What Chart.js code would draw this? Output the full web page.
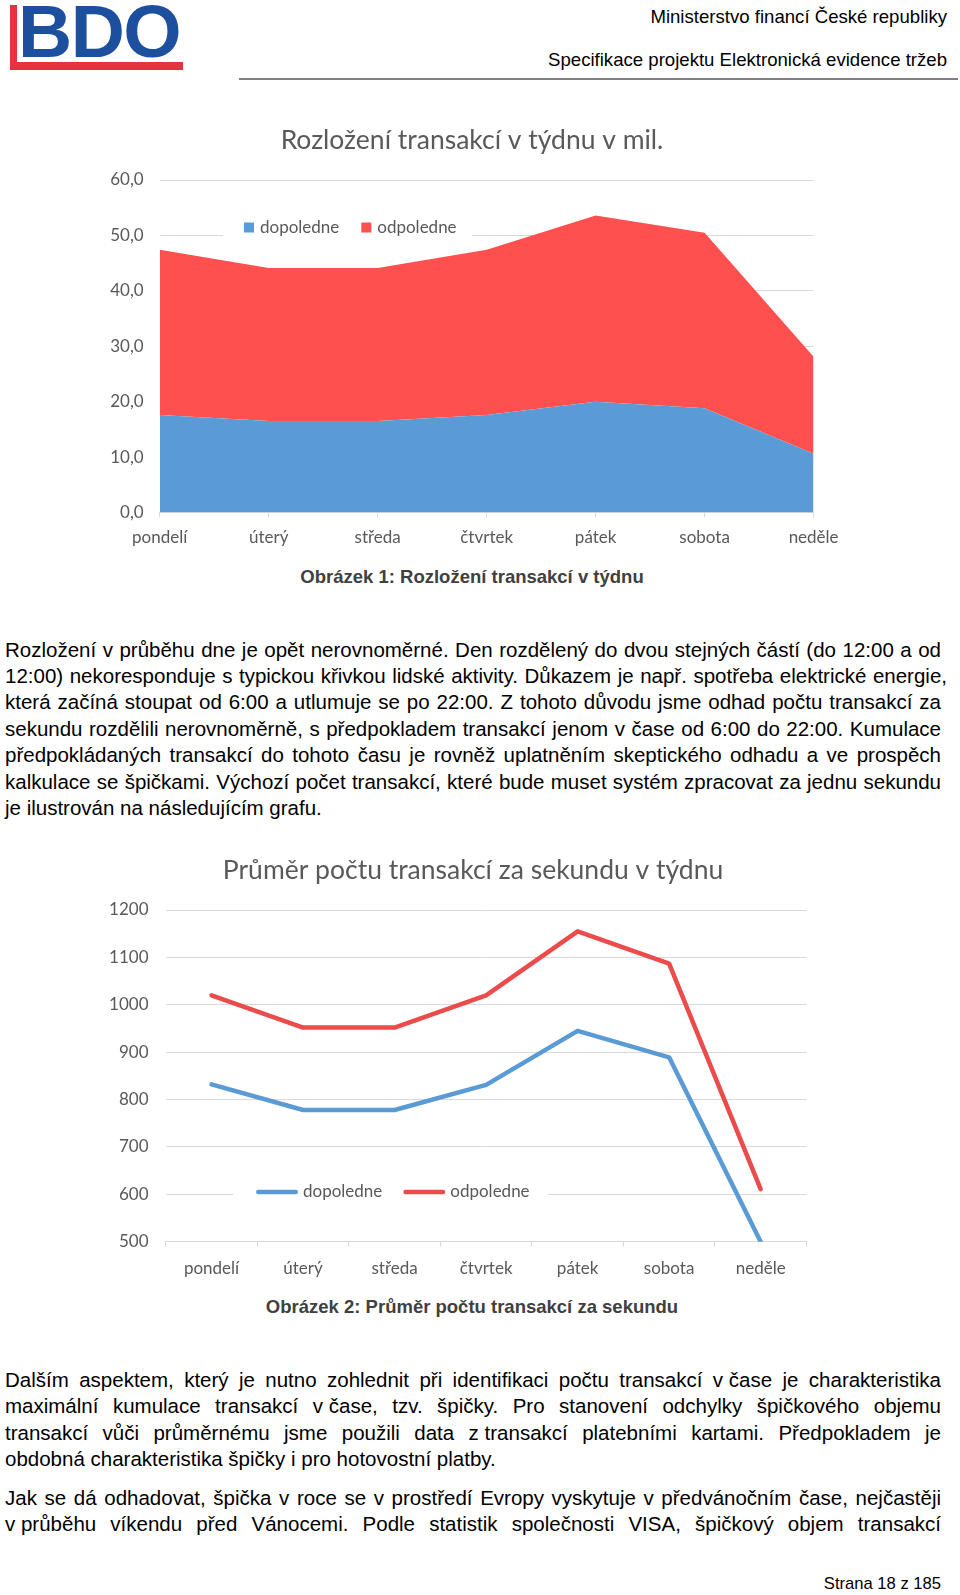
<!DOCTYPE html>
<html lang="cs">
<head>
<meta charset="utf-8">
<title>Rozložení transakcí</title>
<script src="https://cdn.jsdelivr.net/npm/chart.js@4.4.1/dist/chart.umd.min.js"></script>
<style>
  html, body { margin: 0; padding: 0; background: #fff; }
  #page { position: relative; width: 960px; height: 1595px; overflow: hidden; background: #fff; font-family: "Liberation Sans", Arial, sans-serif; color: #000; }
  .abs { position: absolute; }
  .logo-v { left: 10px; top: 5px; width: 7px; height: 65px; background: #e8313f; }
  .logo-h { left: 10px; top: 62px; width: 173px; height: 8px; background: #e8313f; }
  .logo-t { left: 18px; top: -5.8px; font: bold 75px/75px "Liberation Sans", Arial, sans-serif; color: #1d4f9f; letter-spacing: -1.5px; }
  .hdr { right: 13px; font-size: 18.6px; line-height: 22px; white-space: nowrap; }
  .rule { left: 239px; top: 78px; width: 719px; height: 2px; background: #808080; }
  .caption { left: 0; width: 944px; text-align: center; font-weight: bold; font-size: 18.5px; line-height: 22px; color: #404040; }
  .para { left: 5px; width: 936px; font-size: 20.5px; }
  .para div { height: 26.4px; line-height: 26.4px; text-align: justify; text-align-last: justify; }
  .para div.last { text-align: left; text-align-last: left; }
  .nb { display: inline-block; white-space: nowrap; }
  .footer { right: 19px; top: 1574px; font-size: 16.6px; line-height: 20px; }
  canvas { position: absolute; }
</style>
</head>
<body>
<div id="page">
  <div class="abs logo-v"></div>
  <div class="abs logo-h"></div>
  <div class="abs logo-t">BDO</div>
  <div class="abs hdr" style="top:6.3px">Ministerstvo financí České republiky</div>
  <div class="abs hdr" style="top:49px">Specifikace projektu Elektronická evidence tržeb</div>
  <div class="abs rule"></div>

  <canvas id="chart1" width="760" height="460" style="left:90px;top:100px;width:760px;height:460px"></canvas>
  <div class="abs caption" style="top:566.2px">Obrázek 1: Rozložení transakcí v týdnu</div>

  <div class="abs para" style="top:636.6px">
    <div>Rozložení v průběhu dne je opět nerovnoměrné. Den rozdělený do dvou stejných částí (do 12:00 a od</div>
    <div style="width:942px">12:00) nekoresponduje s typickou křivkou lidské aktivity. Důkazem je např. spotřeba elektrické energie,</div>
    <div>která začíná stoupat od 6:00 a utlumuje se po 22:00. Z tohoto důvodu jsme odhad počtu transakcí za</div>
    <div>sekundu rozdělili nerovnoměrně, s předpokladem transakcí jenom v čase od 6:00 do 22:00. Kumulace</div>
    <div>předpokládaných transakcí do tohoto času je rovněž uplatněním skeptického odhadu a ve prospěch</div>
    <div>kalkulace se špičkami. Výchozí počet transakcí, které bude muset systém zpracovat za jednu sekundu</div>
    <div class="last">je ilustrován na následujícím grafu.</div>
  </div>

  <canvas id="chart2" width="760" height="470" style="left:90px;top:820px;width:760px;height:470px"></canvas>
  <div class="abs caption" style="top:1295.6px">Obrázek 2: Průměr počtu transakcí za sekundu</div>

  <div class="abs para" style="top:1366.8px">
    <div>Dalším aspektem, který je nutno zohlednit při identifikaci počtu transakcí <span class="nb">v&nbsp;čase</span> je charakteristika</div>
    <div>maximální kumulace transakcí <span class="nb">v&nbsp;čase,</span> tzv. špičky. Pro stanovení odchylky špičkového objemu</div>
    <div>transakcí vůči průměrnému jsme použili data <span class="nb">z&nbsp;transakcí</span> platebními kartami. Předpokladem je</div>
    <div class="last">obdobná charakteristika špičky i pro hotovostní platby.</div>
  </div>

  <div class="abs para" style="top:1484.7px">
    <div>Jak se dá odhadovat, špička v roce se v prostředí Evropy vyskytuje v předvánočním čase, nejčastěji</div>
    <div><span class="nb">v&nbsp;průběhu</span> víkendu před Vánocemi. Podle statistik společnosti VISA, špičkový objem transakcí</div>
  </div>

  <div class="abs footer">Strana 18 z 185</div>
</div>

<script>
// ---- data ----
const days = ['pondelí', 'úterý', 'středa', 'čtvrtek', 'pátek', 'sobota', 'neděle'];
const seriesNames = ['dopoledne', 'odpoledne'];
// Chart 1: transactions per weekday in millions (stacked)
const volumeMorning   = [17.6, 16.5, 16.5, 17.6, 20.0, 18.8, 10.6];
const volumeAfternoon = [29.8, 27.6, 27.6, 29.8, 33.6, 31.7, 17.5];
// Chart 2: average transactions per second
const tpsMorning   = [832, 778, 778, 831, 945, 889, 500];
const tpsAfternoon = [1020, 952, 952, 1020, 1155, 1087, 611];
const title1 = 'Rozložení transakcí v týdnu v mil.';
const title2 = 'Průměr počtu transakcí za sekundu v týdnu';

const BLUE = '#5B9BD5';
const RED_AREA = '#FF5050';
const RED_LINE = '#EC4B4B';
const GRID = '#D9D9D9';
const TEXT = '#595959';

Chart.defaults.font.family = 'Lato, "Open Sans", sans-serif';
Chart.defaults.font.size = 17;
Chart.defaults.color = TEXT;

// re-centres the title block horizontally on a given canvas x
const titleCenter = {
  id: 'titleCenter',
  afterLayout(chart, args, o) {
    const t = chart.titleBlock;
    if (!t) return;
    const half = (t.right - t.left) / 2;
    t.left = o.center - half;
    t.right = o.center + half;
  }
};

const insideLegend = {
  id: 'insideLegend',
  beforeDatasetsDraw(chart, args, o) {
    const ctx = chart.ctx, area = chart.chartArea;
    ctx.save();
    ctx.font = `${o.fontSize}px ${Chart.defaults.font.family}`;
    const items = chart.data.datasets.map(ds => ({ label: ds.label, color: ds.legendColor }));
    let x = area.left + o.x;
    const y = area.top + o.y;
    let total = 0;
    items.forEach((it, i) => {
      total += o.markerWidth + o.markerGap + ctx.measureText(it.label).width + (i < items.length - 1 ? o.itemGap : 0);
    });
    ctx.fillStyle = '#ffffff';
    ctx.fillRect(x - o.bgPadLeft, y - o.bgHeight / 2, total + o.bgPadLeft + o.bgPadRight, o.bgHeight);
    items.forEach(it => {
      if (o.marker === 'box') {
        ctx.fillStyle = it.color;
        ctx.fillRect(x, y - o.markerWidth / 2, o.markerWidth, o.markerWidth);
      } else {
        ctx.strokeStyle = it.color;
        ctx.lineWidth = o.lineWidth;
        ctx.lineCap = 'round';
        ctx.beginPath();
        ctx.moveTo(x + o.lineWidth / 2, y);
        ctx.lineTo(x + o.markerWidth - o.lineWidth / 2, y);
        ctx.stroke();
      }
      x += o.markerWidth + o.markerGap;
      ctx.fillStyle = TEXT;
      ctx.textAlign = 'left';
      ctx.textBaseline = 'middle';
      ctx.fillText(it.label, x, y);
      x += ctx.measureText(it.label).width + o.itemGap;
    });
    ctx.restore();
  }
};

// ---- chart 1: stacked area ----
new Chart(document.getElementById('chart1'), {
  type: 'line',
  data: {
    labels: days,
    datasets: [
      { label: seriesNames[0], data: volumeMorning, backgroundColor: BLUE, borderColor: BLUE, legendColor: BLUE,
        borderWidth: 0, pointRadius: 0, fill: 'origin', tension: 0 },
      { label: seriesNames[1], data: volumeAfternoon, backgroundColor: RED_AREA, borderColor: RED_AREA, legendColor: RED_AREA,
        borderWidth: 0, pointRadius: 0, fill: '-1', tension: 0 }
    ]
  },
  plugins: [insideLegend, titleCenter],
  options: {
    responsive: false,
    animation: false,
    layout: { padding: { left: 0, right: 36.4, top: 0, bottom: 0 } },
    plugins: {
      legend: { display: false },
      tooltip: { enabled: false },
      title: { display: true, text: title1, color: TEXT, font: { size: 26.5, weight: 'normal' }, padding: { top: 24.6, bottom: 23.6 } },
      titleCenter: { center: 382 },
      insideLegend: { x: 84.3, y: 47.5, fontSize: 17, marker: 'box', markerWidth: 10, markerGap: 6, itemGap: 22,
        bgPadLeft: 21, bgPadRight: 15, bgHeight: 24 }
    },
    scales: {
      x: {
        offset: false,
        grid: { display: true, drawOnChartArea: false, drawTicks: true, tickLength: 5, color: GRID },
        border: { display: true, color: GRID },
        ticks: { padding: 10.3, color: TEXT, maxRotation: 0, autoSkip: false },
        afterFit(s) { s.height = 47.5; }
      },
      y: {
        stacked: true,
        min: 0, max: 60,
        grid: { color: GRID, drawTicks: false },
        border: { display: false },
        ticks: { stepSize: 10, padding: 16, color: TEXT, callback: v => v.toFixed(1).replace('.', ',') },
        afterFit(s) { s.width = 69.7; }
      }
    }
  }
});

// ---- chart 2: lines ----
new Chart(document.getElementById('chart2'), {
  type: 'line',
  data: {
    labels: days,
    datasets: [
      { label: seriesNames[0], data: tpsMorning, borderColor: BLUE, legendColor: BLUE, borderWidth: 4.5,
        pointRadius: 0, fill: false, tension: 0, borderJoinStyle: 'round', borderCapStyle: 'round' },
      { label: seriesNames[1], data: tpsAfternoon, borderColor: RED_LINE, legendColor: RED_LINE, borderWidth: 4.5,
        pointRadius: 0, fill: false, tension: 0, borderJoinStyle: 'round', borderCapStyle: 'round' }
    ]
  },
  plugins: [insideLegend, titleCenter],
  options: {
    responsive: false,
    animation: false,
    layout: { padding: { left: 0, right: 43.6, top: 0, bottom: 0 } },
    plugins: {
      legend: { display: false },
      tooltip: { enabled: false },
      title: { display: true, text: title2, color: TEXT, font: { size: 26.5, weight: 'normal' }, padding: { top: 34.6, bottom: 23.6 } },
      titleCenter: { center: 383 },
      insideLegend: { x: 90.2, y: 282, fontSize: 17, marker: 'line', markerWidth: 42, lineWidth: 4.5, markerGap: 5, itemGap: 21,
        bgPadLeft: 23, bgPadRight: 18, bgHeight: 24 }
    },
    scales: {
      x: {
        offset: true,
        grid: { display: true, offset: true, drawOnChartArea: false, drawTicks: true, tickLength: 5, color: GRID },
        border: { display: true, color: GRID },
        ticks: { padding: 12, color: TEXT, maxRotation: 0, autoSkip: false },
        afterFit(s) { s.height = 48.3; }
      },
      y: {
        min: 500, max: 1200,
        grid: { color: GRID, drawTicks: false },
        border: { display: false },
        ticks: { stepSize: 100, padding: 17.3, color: TEXT, callback: v => String(v) },
        afterFit(s) { s.width = 75.8; }
      }
    }
  }
});
</script>
</body>
</html>
